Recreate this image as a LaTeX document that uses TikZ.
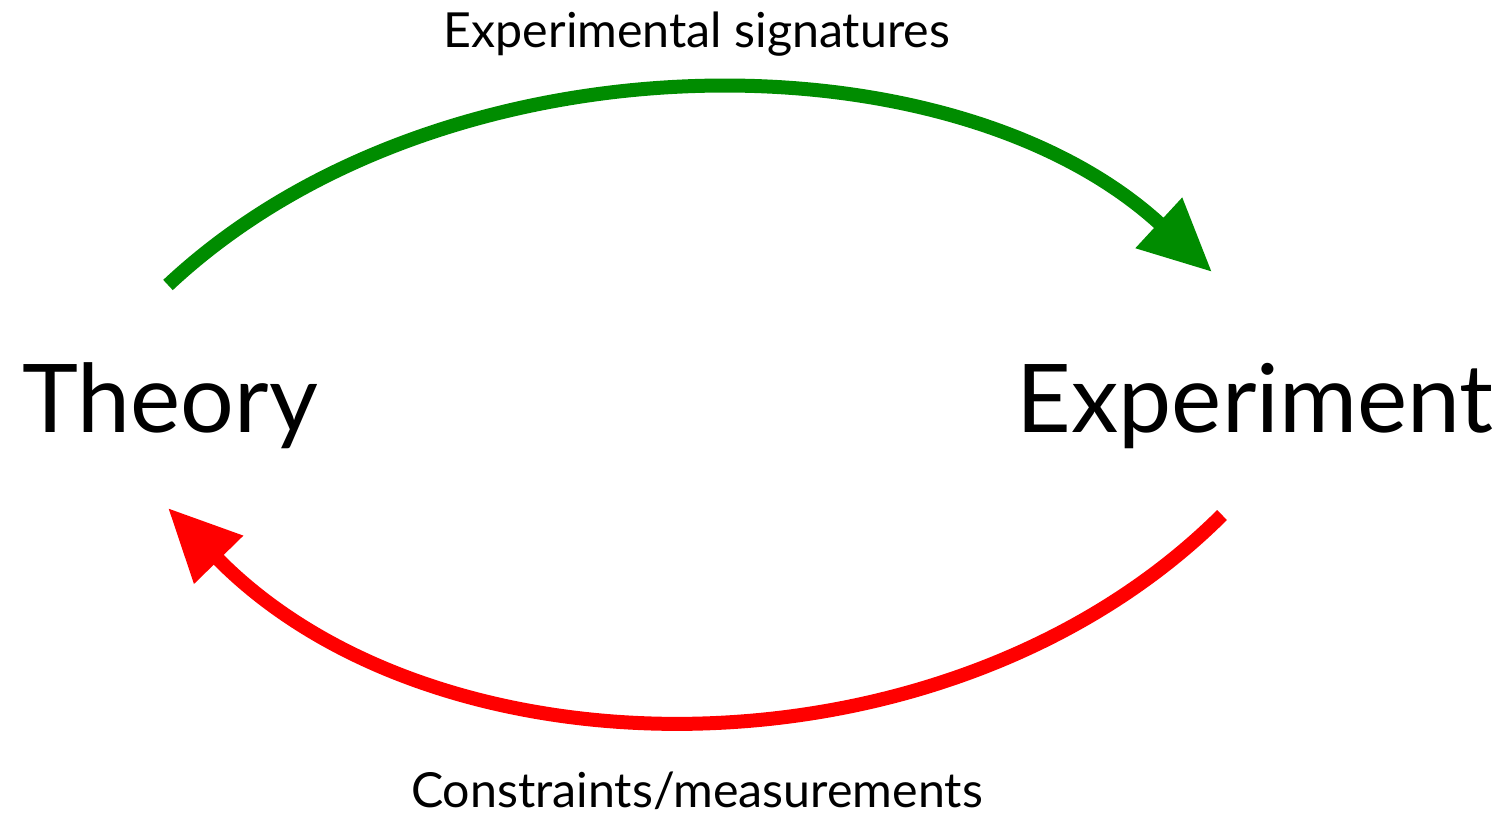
\documentclass[tikz,border=0pt]{standalone}
\usepackage{fontspec}
\setmainfont{Lato}
\usepackage{xcolor}
\usetikzlibrary{arrows.meta, positioning}

\definecolor{sigGreen}{RGB}{0,140,0}
\definecolor{conRed}{RGB}{255,0,0}

\begin{document}
\begin{tikzpicture}[
    x=0.02cm, y=-0.02cm,
    bigword/.style={inner sep=0pt, font=\fontsize{54}{60}\selectfont},
    label/.style={inner sep=0pt, font=\fontsize{27.5}{32}\selectfont},
    arrow/.style={line width=0.28cm, -{Triangle[length=1.45cm,width=1.3cm]}}
]
\useasboundingbox (0,0) rectangle (1506,818);
\node[bigword, anchor=base west] (theory) at (22,432) {Theory};
\node[bigword, anchor=base east] (experiment) at (1494,432) {Experiment};
\coordinate (gstart) at (168,285);
\coordinate (gend) at (1212,272);
\coordinate (rstart) at (1222,515);
\coordinate (rend) at (168,508);

\draw[arrow, sigGreen] (gstart) .. controls (440,30) and (950,30) .. (gend);
\draw[arrow, conRed] (rstart) .. controls (950,786) and (440,786) .. (rend);

\node[label, anchor=base] (sig) at (697,47) {Experimental signatures};
\node[label, anchor=base] (meas) at (697,807) {Constraints/measurements};
\end{tikzpicture}
\end{document}
